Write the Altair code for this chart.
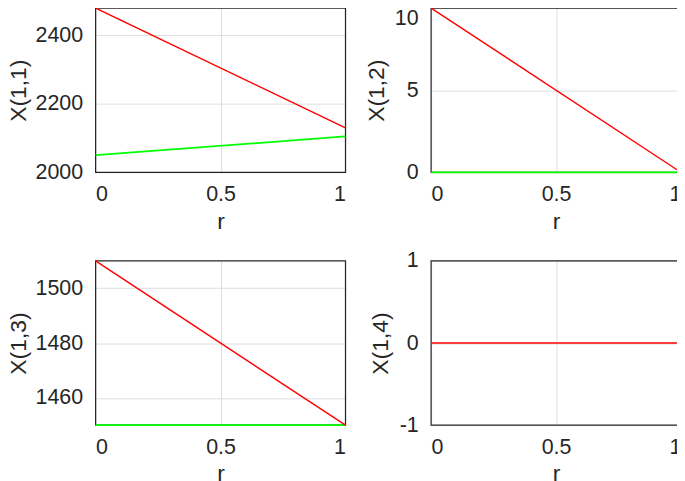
import altair as alt
import pandas as pd

# Data
r = [0, 1]
x11_red = [2480, 2130]
x11_green = [2050, 2105]
x12_red = [10, 0]
x12_green = [0, 0]
x13_red = [1510, 1450]
x13_green = [1450, 1450]
x14_red = [0, 0]

x_ticks = [0, 0.5, 1]

W, H = 251, 165
FONT = "Liberation Sans"
LABEL = "'' + datum.value"


def panel(red, green, domain, yticks, ytitle, title_x, top_flush=False):
    xenc = alt.X(
        "r:Q",
        scale=alt.Scale(domain=[0, 1], nice=False, zero=False),
        axis=alt.Axis(
            values=x_ticks, labelExpr=LABEL, title="r", ticks=False, domain=False,
            labelPadding=11, titleX=W / 2, titleY=56, titleBaseline="alphabetic",
        ),
    )
    yaxis_kw = dict(
        values=yticks, labelExpr=LABEL, title=ytitle, ticks=False, domain=False,
        labelPadding=13, titleX=title_x, titleY=H / 2, titleBaseline="middle",
        titleAngle=270,
    )
    if top_flush:
        yaxis_kw["labelBaseline"] = alt.condition(
            f"datum.value == {yticks[-1]}", alt.value("top"), alt.value("middle")
        )
    yenc = alt.Y(
        "v:Q",
        scale=alt.Scale(domain=domain, nice=False, zero=False),
        axis=alt.Axis(**yaxis_kw),
    )
    frame = alt.Chart(pd.DataFrame({"k": [0]})).mark_rect(
        fill="transparent", stroke="#262626", strokeWidth=1.2
    ).encode(x=alt.value(0), x2=alt.value(W), y=alt.value(0), y2=alt.value(H))
    layers = [frame]
    if green is not None:
        df_g = pd.DataFrame({"r": r, "v": green})
        layers.append(alt.Chart(df_g).mark_line(color="#00ff00", strokeWidth=1.8).encode(x=xenc, y=yenc))
    df_r = pd.DataFrame({"r": r, "v": red})
    layers.append(alt.Chart(df_r).mark_line(color="#ff0000", strokeWidth=1.4).encode(x=xenc, y=yenc))
    return alt.layer(*layers).properties(width=W, height=H)


p1 = panel(x11_red, x11_green, [2000, 2480], [2000, 2200, 2400], "X(1,1)", -77)
p2 = panel(x12_red, x12_green, [0, 10], [0, 5, 10], "X(1,2)", -55, top_flush=True)
p3 = panel(x13_red, x13_green, [1450, 1510], [1460, 1480, 1500], "X(1,3)", -77)
p4 = panel(x14_red, None, [-1, 1], [-1, 0, 1], "X(1,4)", -51)

chart = alt.concat(
    p1, p2, p3, p4, columns=2,
    spacing={"row": 89, "column": 86},
    bounds="flush",
).properties(
    padding={"left": 0, "top": -4, "right": -8, "bottom": -4},
    background="white",
).configure_view(
    stroke=None,
).configure_axis(
    labelFont=FONT, titleFont=FONT, labelFontSize=21.5, titleFontSize=23,
    labelColor="#262626", titleColor="#262626", titleFontWeight="normal",
    gridColor="#dedede", gridWidth=1,
)

chart.save("out.html", embed_options={"renderer": "svg", "actions": False})
